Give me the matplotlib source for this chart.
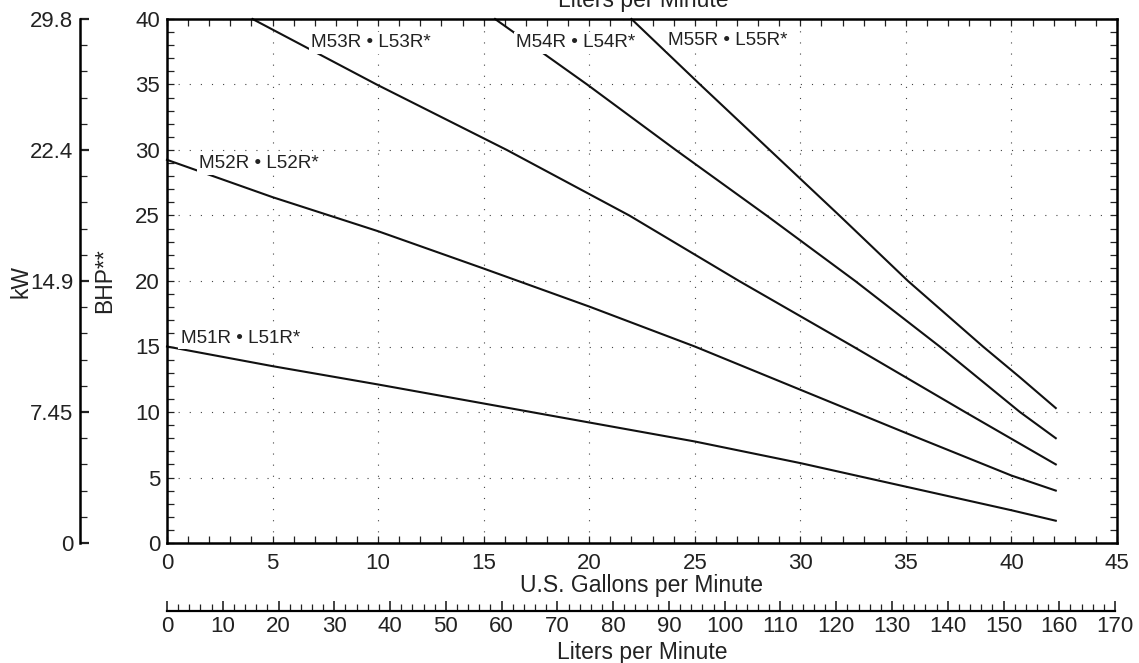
import matplotlib
matplotlib.use("Agg")
import matplotlib.pyplot as plt
from matplotlib.ticker import MultipleLocator, FixedLocator, FixedFormatter

plt.rcParams['font.family'] = ['Liberation Sans', 'DejaVu Sans']
plt.rcParams['text.color'] = '#222222'
plt.rcParams['axes.labelcolor'] = '#222222'
plt.rcParams['xtick.color'] = '#222222'
plt.rcParams['ytick.color'] = '#222222'

# flow (U.S. gpm) vs. power (BHP)
m51_gpm = [0, 5, 10, 15, 20, 25, 30, 35, 40, 42.1]
m51_bhp = [15.0, 13.5, 12.1, 10.65, 9.2, 7.75, 6.1, 4.3, 2.5, 1.7]
m52_gpm = [0, 5, 10, 15, 20, 25, 30, 35, 40, 42.1]
m52_bhp = [29.25, 26.4, 23.8, 20.95, 18.05, 15.0, 11.7, 8.4, 5.15, 4.0]
m53_gpm = [4.05, 9.93, 16.1, 21.9, 27.1, 32.5, 37.8, 42.1]
m53_bhp = [40, 35, 30, 25, 20, 15, 10, 6.0]
m54_gpm = [15.54, 19.9, 24.1, 28.4, 32.6, 36.6, 40.4, 42.1]
m54_bhp = [40, 35, 30, 25, 20, 15, 10, 8.0]
m55_gpm = [22.0, 25.25, 28.55, 31.85, 35.1, 38.65, 40.4, 42.1]
m55_bhp = [40, 35, 30, 25, 20, 15, 12.65, 10.3]

model_names = ['M51R • L51R*', 'M52R • L52R*', 'M53R • L53R*',
               'M54R • L54R*', 'M55R • L55R*']

kw_ticks = [0, 10, 20, 30, 40]
kw_labels = ['0', '7.45', '14.9', '22.4', '29.8']
lpm_ticks = list(range(0, 171, 10))
GAL_TO_L = 3.7854

W, H = 1139, 663
fig = plt.figure(figsize=(W / 100, H / 100), dpi=100)

ax_bottom = (H - 543) / H
ax_height = 524 / H
ax = fig.add_axes([167 / W, ax_bottom, 950 / W, ax_height])

curves = [(m51_gpm, m51_bhp), (m52_gpm, m52_bhp), (m53_gpm, m53_bhp),
          (m54_gpm, m54_bhp), (m55_gpm, m55_bhp)]
for gx, by in curves:
    ax.plot(gx, by, color='#111111', lw=1.5, zorder=2, clip_on=False)

# curve labels (x, baseline y in data units)
label_pos = [(0.65, 15.29), (1.53, 28.6), (6.84, 37.84), (16.53, 37.84), (23.75, 38.0)]
for name, (tx, ty) in zip(model_names, label_pos):
    ax.text(tx, ty, name, fontsize=13.6, ha='left', va='baseline', zorder=3,
            bbox=dict(boxstyle='square,pad=0.12', fc='white', ec='none'))

ax.set_xlim(0, 45)
ax.set_ylim(0, 40)
ax.xaxis.set_major_locator(MultipleLocator(5))
ax.xaxis.set_minor_locator(MultipleLocator(1))
ax.yaxis.set_major_locator(MultipleLocator(5))
ax.yaxis.set_minor_locator(MultipleLocator(1))
ax.tick_params(which='both', direction='in', top=True, right=True,
               length=5, width=0.9)
ax.tick_params(axis='x', labelsize=16, pad=7)
ax.tick_params(axis='y', labelsize=16, pad=5)
ax.grid(True, which='major', linestyle=(0, (1, 9)), color='#444444', lw=0.8)
for s in ax.spines.values():
    s.set_linewidth(1.8)
ax.set_xlabel('U.S. Gallons per Minute', fontsize=16.5, labelpad=0)
ax.set_ylabel('BHP**', fontsize=16.5, labelpad=14)

# kW scale on the far left
ax_kw = fig.add_axes([80 / W, ax_bottom, 0.01, ax_height])
ax_kw.patch.set_visible(False)
for side in ['top', 'right', 'bottom']:
    ax_kw.spines[side].set_visible(False)
ax_kw.spines['left'].set_linewidth(1.8)
ax_kw.set_ylim(0, 40)
ax_kw.set_xticks([])
ax_kw.yaxis.set_major_locator(FixedLocator(kw_ticks))
ax_kw.yaxis.set_major_formatter(FixedFormatter(kw_labels))
ax_kw.yaxis.set_minor_locator(MultipleLocator(2))
ax_kw.tick_params(axis='y', which='major', direction='in', length=6.5, width=1.6,
                  labelsize=16, pad=5)
ax_kw.tick_params(axis='y', which='minor', direction='in', length=5, width=0.9)
ax_kw.set_ylabel('kW', fontsize=16.5, labelpad=-2)

# liters per minute scale below
ax_l = fig.add_axes([167 / W, (H - 610.7) / H, 950 / W, 0.0001])
ax_l.patch.set_visible(False)
for side in ['top', 'right', 'left']:
    ax_l.spines[side].set_visible(False)
ax_l.spines['bottom'].set_linewidth(1.6)
ax_l.spines['bottom'].set_bounds(0, 170)
ax_l.set_xlim(0, 45 * GAL_TO_L)
ax_l.set_yticks([])
ax_l.set_xticks(lpm_ticks)
ax_l.xaxis.set_minor_locator(MultipleLocator(2))
ax_l.tick_params(axis='x', which='major', direction='in', length=7.5, width=1.2,
                 labelsize=16, pad=4)
ax_l.tick_params(axis='x', which='minor', direction='in', length=5, width=0.9)
ax_l.set_xlabel('Liters per Minute', fontsize=16.5, labelpad=3)

# top axis title, mostly cut off by the page edge
fig.text(643 / W, 1 - 7.3 / H, 'Liters per Minute', fontsize=16.5,
         ha='center', va='baseline')

fig.savefig('out.png', dpi=100)
